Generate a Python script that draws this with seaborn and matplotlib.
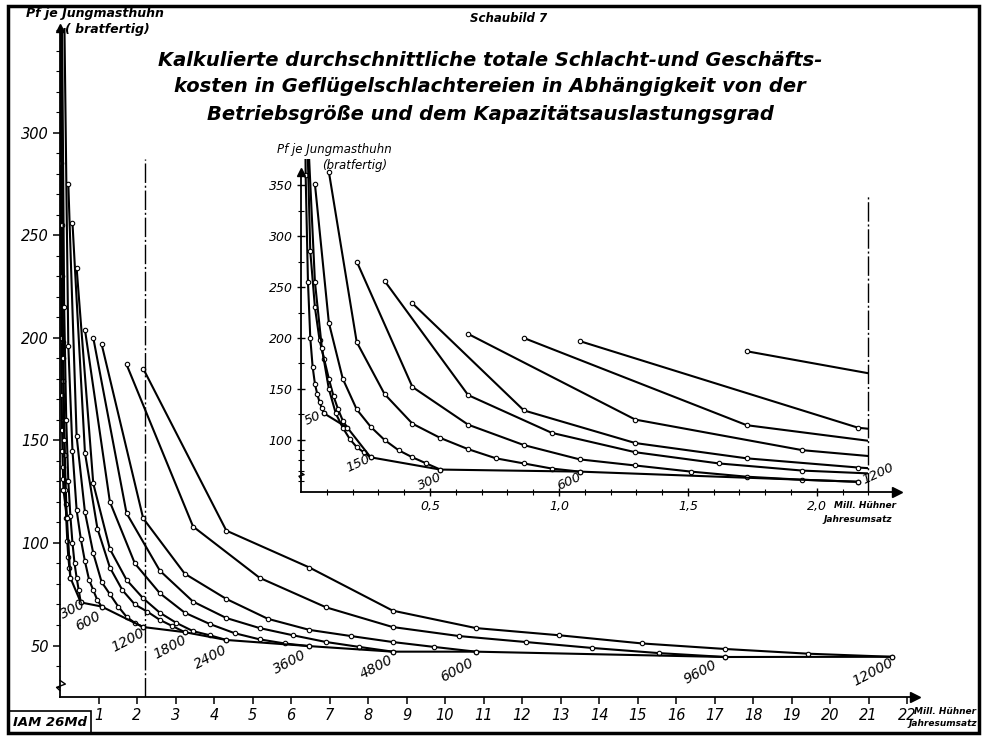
import matplotlib
matplotlib.use("Agg")
import matplotlib.pyplot as plt
import numpy as np
import pandas as pd
import seaborn as sns
from matplotlib.patches import Rectangle

sns.set_theme(style="white")
plt.rcParams['font.family'] = ['DejaVu Sans']

# Betriebsgröße (Hühner je Stunde) und Jahresumsatz bei voller Auslastung (Mill. Hühner)
capacities = [50, 100, 150, 300, 600, 1200, 1800, 2400, 3600, 4800, 6000, 9600, 12000]
full_volume = [0.09, 0.18, 0.27, 0.54, 1.08, 2.16, 3.24, 4.32, 6.48, 8.64, 10.8, 17.28, 21.6]
# Kapazitätsauslastung 10 % ... 100 %
utilization = [0.1, 0.2, 0.3, 0.4, 0.5, 0.6, 0.7, 0.8, 0.9, 1.0]

# Kosten in Pf je Jungmasthuhn bei steigender Auslastung
cost_50 = [650, 360, 255, 200, 172, 155, 145, 137, 131, 126]
cost_100 = [460, 285, 230, 198, 179, 160, 143, 130, 119, 112]
cost_150 = [400, 255, 190, 150, 126, 112, 101, 93, 88, 83]
cost_300 = [351, 215, 160, 130, 113, 100, 90, 83, 77, 71]
cost_600 = [363, 196, 145, 116, 102, 91, 82, 77, 72, 69]
cost_1200 = [275, 152, 115, 95, 81, 75, 69, 64, 61, 59]
cost_1800 = [256, 144, 107, 88, 77, 70, 66.5, 62.5, 59.5, 56.5]
cost_2400 = [234, 129, 97, 82, 73, 66, 61, 57, 55, 52.7]
cost_3600 = [204, 120, 90, 75.5, 66, 60.5, 56, 53, 51, 49.7]
cost_4800 = [200, 114.5, 86.5, 71.4, 63.4, 58.5, 55, 51.7, 49.3, 47]
cost_6000 = [197, 112, 85, 72.7, 63, 57.6, 54.6, 51.7, 49.3, 47]
cost_9600 = [187, 108, 83, 68.6, 59, 54.6, 51.7, 48.8, 46.3, 44.4]
cost_12000 = [185, 106, 88, 67, 58.5, 55, 51, 48.3, 46, 44.5]

costs = [cost_50, cost_100, cost_150, cost_300, cost_600, cost_1200, cost_1800,
         cost_2400, cost_3600, cost_4800, cost_6000, cost_9600, cost_12000]

main_labels = [300, 600, 1200, 1800, 2400, 3600, 4800, 6000, 9600, 12000]
inset_labels = [50, 150, 300, 600, 1200]

main_yticks = [50, 100, 150, 200, 250, 300]
main_xticks = list(range(1, 23))
inset_yticks = [100, 150, 200, 250, 300, 350]
inset_xticks = [0.5, 1.0, 1.5, 2.0]
inset_xticklabels = ["0,5", "1,0", "1,5", "2,0"]
capacity_limit = 2.2

rows = []
for cap, vol, cc in zip(capacities, full_volume, costs):
    for u, c in zip(utilization, cc):
        rows.append({"cap": cap, "x": vol * u, "y": c})
df = pd.DataFrame(rows)
ends = pd.DataFrame({"cap": capacities, "x": full_volume, "y": [c[-1] for c in costs]})

fig = plt.figure(figsize=(9.85, 7.37), dpi=100)
fig.patch.set_facecolor("white")

ital = dict(fontstyle="italic", color="black")
boldit = dict(fontstyle="italic", fontweight="bold", color="black")

line_kw = dict(color="black", lw=1.5, marker="o", ms=3.2, mfc="white",
               mec="black", mew=0.8, sort=False, legend=False)


def style_axis(ax, xmax_arrow, ytop_arrow, ybottom):
    for s in ["top", "right"]:
        ax.spines[s].set_visible(False)
    for s in ["left", "bottom"]:
        ax.spines[s].set_color("black")
        ax.spines[s].set_linewidth(1.3)
    ax.spines["left"].set_bounds(ybottom, ytop_arrow)
    ax.spines["bottom"].set_bounds(0, xmax_arrow)
    ax.plot([xmax_arrow], [ybottom], marker=">", color="black", ms=7, clip_on=False)
    ax.plot([0], [ytop_arrow], marker="^", color="black", ms=6, clip_on=False)
    ax.grid(False)


# ---------- Hauptdiagramm ----------
ax = fig.add_axes([60 / 985, 1 - 697 / 737, 858.6 / 985, 669 / 737])
ax.set_facecolor("none")
ax.set_xlim(0, 22.3)
ax.set_ylim(24.9, 351)

sns.lineplot(data=df, x="x", y="y", units="cap", estimator=None, ax=ax, **line_kw)
sns.lineplot(data=ends, x="x", y="y", estimator=None, ax=ax, **line_kw)
style_axis(ax, 22.2, 351, 24.9)

ax.axvline(capacity_limit, ymin=0, ymax=(287 - 24.9) / (351 - 24.9), color="black",
           lw=1.0, ls=(0, (14, 2, 1.5, 2)))

ax.set_xticks(main_xticks)
ax.set_xticklabels([str(t) for t in main_xticks], **ital, fontsize=10.5)
ax.set_yticks(main_yticks)
ax.set_yticklabels([str(t) for t in main_yticks], **ital, fontsize=10.5)
ax.set_yticks(np.arange(30, 351, 10), minor=True)
ax.tick_params(axis="both", which="major", direction="out", length=5, width=1.1,
               color="black", pad=3, bottom=True, left=True)
ax.tick_params(axis="y", which="minor", direction="out", length=3, width=0.8,
               color="black", left=True)
ax.set_xlabel("")
ax.set_ylabel("")

# Achsenbruch
ax.plot([0, 0.14, -0.09, 0], [33, 31.2, 29.6, 28], color="black", lw=1.0, clip_on=False)

main_offsets = {300: (-8, -7), 600: (-14, -15), 1200: (-15, -13), 1800: (-15, -15),
                2400: (-16, -17), 3600: (-20, -16), 4800: (-16, -15), 6000: (-19, -18),
                9600: (-25, -15), 12000: (-19, -15)}
for cap in main_labels:
    r = ends[ends.cap == cap].iloc[0]
    ax.annotate(str(cap), (r.x, r.y), xytext=main_offsets[cap], textcoords="offset pixels",
                ha="center", va="center", rotation=28, fontsize=10, **ital)

fig.text(95 / 985, 1 - 13 / 737, "Pf je Jungmasthuhn", ha="center", va="center",
         fontsize=9, **boldit)
fig.text(107 / 985, 1 - 30 / 737, "( bratfertig)", ha="center", va="center",
         fontsize=9, **boldit)
fig.text(945 / 985, 1 - 712 / 737, "Mill. Hühner", ha="center", va="center",
         fontsize=6.5, **boldit)
fig.text(943 / 985, 1 - 724 / 737, "Jahresumsatz", ha="center", va="center",
         fontsize=6.5, **boldit)

# ---------- Ausschnitt bis 2,2 Mill. Hühner ----------
ax2 = fig.add_axes([301 / 985, 1 - 492 / 737, 601 / 985, 333.5 / 737])
ax2.set_facecolor("none")
ax2.set_xlim(0, 2.33)
ax2.set_ylim(49, 376)

sub = df[df.cap <= 9600]
sns.lineplot(data=sub, x="x", y="y", units="cap", estimator=None, ax=ax2, **line_kw)
sub_end = ends[ends.x <= capacity_limit]
sns.lineplot(data=sub_end, x="x", y="y", estimator=None, ax=ax2, **line_kw)
clip = Rectangle((0, 49), capacity_limit, 376 - 49, transform=ax2.transData)
for ln in ax2.lines:
    ln.set_clip_path(clip)
ax2.axvline(capacity_limit, ymin=0, ymax=(340 - 49) / (376 - 49), color="black",
            lw=1.0, ls=(0, (14, 2, 1.5, 2)))
style_axis(ax2, 2.31, 363, 49)

ax2.set_xticks(inset_xticks)
ax2.set_xticklabels(inset_xticklabels, **ital, fontsize=9)
ax2.set_xticks(np.arange(0.1, 2.25, 0.1), minor=True)
ax2.set_yticks(inset_yticks)
ax2.set_yticklabels([str(t) for t in inset_yticks], **ital, fontsize=9)
ax2.set_yticks(list(range(60, 100, 10)) + [125, 175, 225, 275, 325], minor=True)
ax2.tick_params(axis="both", which="major", direction="inout", length=6, width=1.0,
                color="black", pad=3, bottom=True, left=True)
ax2.tick_params(axis="both", which="minor", direction="inout", length=4, width=0.8,
                color="black", bottom=True, left=True)
ax2.set_xlabel("")
ax2.set_ylabel("")
ax2.plot([0, 0.012, -0.008, 0], [68, 66, 64.5, 62], color="black", lw=1.0, clip_on=False)

inset_offsets = {50: (-11, -5), 150: (-12, -6), 300: (-10, -12), 600: (-10, -10),
                 1200: (20, 8)}
for cap in inset_labels:
    r = ends[ends.cap == cap].iloc[0]
    ax2.annotate(str(cap), (r.x, r.y), xytext=inset_offsets[cap], textcoords="offset pixels",
                 ha="center", va="center", rotation=25, fontsize=9.5, **ital)

fig.text(334 / 985, 1 - 150 / 737, "Pf je Jungmasthuhn", ha="center", va="center",
         fontsize=8.5, **ital)
fig.text(355 / 985, 1 - 165 / 737, "(bratfertig)", ha="center", va="center",
         fontsize=8.5, **ital)
fig.text(865 / 985, 1 - 505 / 737, "Mill. Hühner", ha="center", va="center",
         fontsize=6.5, **boldit)
fig.text(858 / 985, 1 - 520 / 737, "Jahresumsatz", ha="center", va="center",
         fontsize=6.5, **boldit)

# ---------- Überschriften ----------
fig.text(509 / 985, 1 - 18 / 737, "Schaubild 7", ha="center", va="center",
         fontsize=8.5, **boldit)
title_lines = ["Kalkulierte durchschnittliche totale Schlacht-und Geschäfts-",
               "kosten in Geflügelschlachtereien in Abhängigkeit von der",
               "Betriebsgröße und dem Kapazitätsauslastungsgrad"]
for i, t in enumerate(title_lines):
    fig.text(490 / 985, 1 - (60 + 27 * i) / 737, t, ha="center", va="center",
             fontsize=14, **boldit)

# Rahmen und Kennzeichnung
fig.add_artist(Rectangle((8 / 985, 4 / 737), 971 / 985, 727 / 737, transform=fig.transFigure,
                         fill=False, lw=2.5, edgecolor="black"))
fig.add_artist(Rectangle((9 / 985, 4 / 737), 82 / 985, 22 / 737, transform=fig.transFigure,
                         fill=False, lw=1.2, edgecolor="black"))
fig.text(50 / 985, 1 - 722 / 737, "IAM 26Md", ha="center", va="center",
         fontsize=9.5, **boldit)

fig.savefig("out.png", dpi=100, facecolor="white")
